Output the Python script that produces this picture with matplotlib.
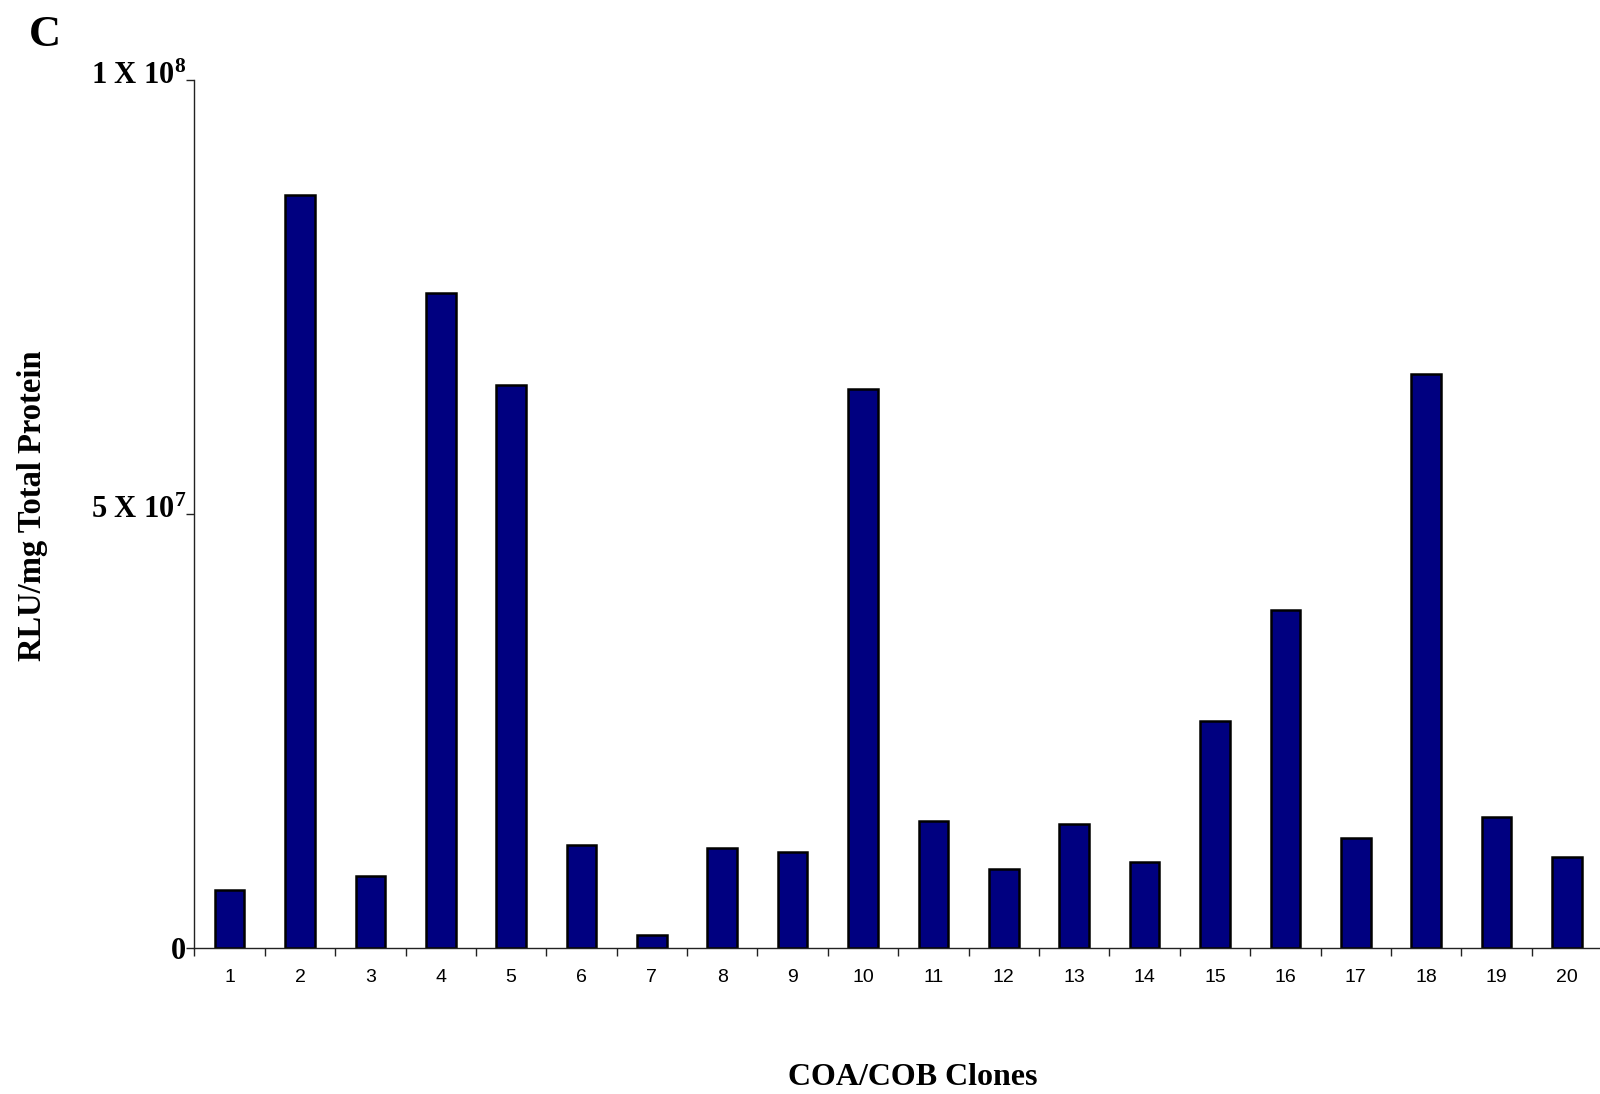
import matplotlib
matplotlib.use("Agg")
import matplotlib.pyplot as plt
import matplotlib.transforms as mtransforms
import numpy as np

# Luciferase activity per clone
clones = [str(i) for i in range(1, 21)]
rlu = [6.7e6, 86.7e6, 8.3e6, 75.5e6, 64.9e6, 11.8e6, 1.45e6, 11.5e6, 11.0e6, 64.4e6,
       14.6e6, 9.1e6, 14.3e6, 9.9e6, 26.1e6, 38.9e6, 12.7e6, 66.1e6, 15.1e6, 10.5e6]
ytick_values = [0, 5e7, 1e8]
ytick_labels = ["0", r"5 X 10$^{7}$", r"1 X 10$^{8}$"]

plt.rcParams["mathtext.fontset"] = "custom"
plt.rcParams["mathtext.rm"] = "Liberation Serif:bold"
plt.rcParams["mathtext.bf"] = "Liberation Serif:bold"
plt.rcParams["mathtext.default"] = "bf"

fig = plt.figure(figsize=(16, 10.94), dpi=100)
ax = fig.add_axes([0.1215, 0.1337, 0.8798, 0.7931])

x = np.arange(len(clones))
ax.bar(x, rlu, width=0.42, color="#000080", edgecolor="black", linewidth=1.8)

ax.set_xlim(-0.5, len(clones) - 0.5)
ax.set_ylim(0, 1e8)

# spines: only left and bottom
for side in ["top", "right"]:
    ax.spines[side].set_visible(False)
for side in ["left", "bottom"]:
    ax.spines[side].set_linewidth(1.0)
    ax.spines[side].set_color("#222222")

# x ticks: labels at bar centres, tick marks between bars
ax.set_xticks(x)
ax.set_xticklabels(clones, fontfamily="Liberation Sans", fontsize=14)
ax.tick_params(axis="x", which="major", length=0, pad=15)
ax.set_xticks(np.arange(-0.5, len(clones), 1.0), minor=True)
ax.tick_params(axis="x", which="minor", length=6, width=1.0, direction="out",
               color="#222222")

ax.set_yticks(ytick_values)
ax.set_yticklabels(ytick_labels, fontfamily="Liberation Serif", fontweight="bold",
                   fontsize=22)
ax.tick_params(axis="y", length=6, width=1.0, pad=0, color="#222222")
# the exponent labels sit on the tick rather than centred on it
shift = mtransforms.ScaledTranslation(0, -0.037, fig.dpi_scale_trans)
for lab in ax.get_yticklabels()[1:]:
    lab.set_va("baseline")
    lab.set_transform(lab.get_transform() + shift)

ax.set_ylabel("RLU/mg Total Protein", fontfamily="Liberation Serif",
              fontweight="bold", fontsize=23.5)
ax.yaxis.set_label_coords(-0.104, 0.509)
ax.set_xlabel("COA/COB Clones", fontfamily="Liberation Serif",
              fontweight="bold", fontsize=23)
ax.xaxis.label.set_va("center")
ax.xaxis.set_label_coords(0.5105, -0.15)

fig.text(0.018, 0.986, "C", fontfamily="Liberation Serif", fontweight="bold",
         fontsize=32, va="top")

fig.savefig("out.png", dpi=100)
